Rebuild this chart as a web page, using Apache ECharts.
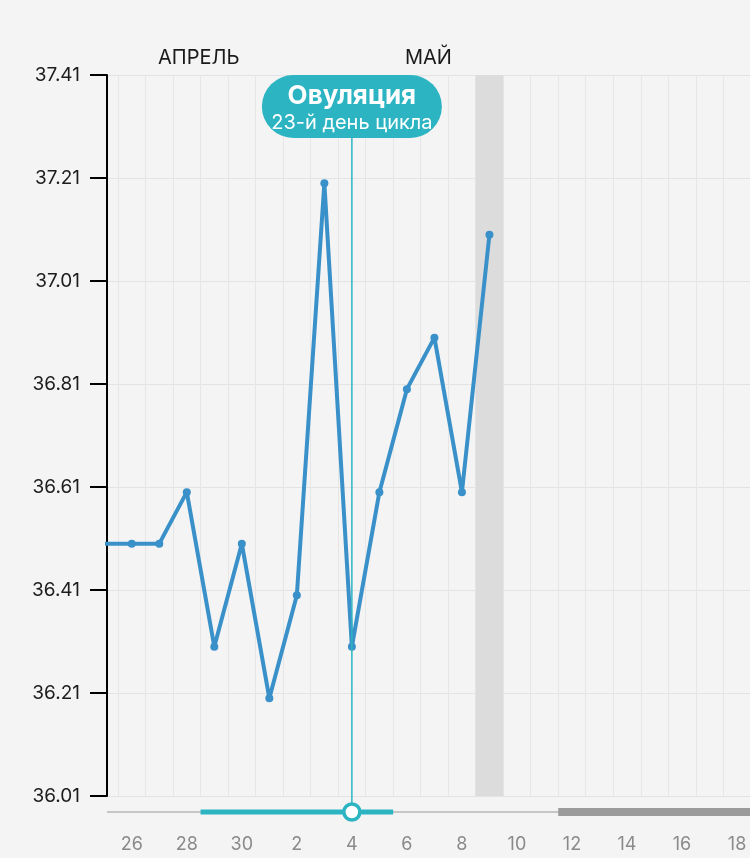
<!DOCTYPE html>
<html>
<head>
<meta charset="utf-8">
<script src="https://cdn.jsdelivr.net/npm/echarts@6/dist/echarts.min.js"></script>
<style>
  html, body { margin: 0; padding: 0; background: #f4f4f4; }
  #main { width: 750px; height: 858px; }
</style>
</head>
<body>
<div id="main"></div>
<script>
// дни по оси X (индекс 0 = 25 апреля)
const dayLabels = ['25', '26', '27', '28', '29', '30',
  '1', '2', '3', '4', '5', '6', '7', '8', '9', '10',
  '11', '12', '13', '14', '15', '16', '17', '18']
// базальная температура по дням, начиная с 25 апреля
const tempValues = [36.5, 36.5, 36.5, 36.6, 36.3, 36.5, 36.2, 36.4,
  37.2, 36.3, 36.6, 36.8, 36.9, 36.6, 37.1]
const yMin = 36.01
const yMax = 37.41
const yStep = 0.2
// видимый диапазон (в индексах дней)
const viewFrom = 0.1
const viewTo = 23.47
const ovulationIndex = 9
const ovulationTitle = 'Овуляция'
const ovulationSub = '23-й день цикла'
const fertileRange = [3.5, 10.5]
const periodFrom = 16.5
const todayRange = [13.5, 14.5]
const months = ['АПРЕЛЬ', 'МАЙ']

const teal = '#2db4c3'
const blue = '#3a91c9'
const font = 'Inter, Roboto, sans-serif'

const chart = echarts.init(document.getElementById('main'))

chart.setOption({
  backgroundColor: '#f4f4f4',
  animation: false,
  grid: {
    left: 107,
    right: 0,
    top: 75,
    bottom: 62
  },
  xAxis: [
    {
      type: 'value',
      min: viewFrom,
      max: viewTo,
      minInterval: 1,
      maxInterval: 1,
      axisLine: {show: false},
      axisTick: {show: false},
      splitLine: {show: false},
      axisLabel: {
        margin: 40,
        fontSize: 18,
        fontFamily: font,
        color: '#8a8a8a',
        showMinLabel: false,
        showMaxLabel: false,
        formatter: function (v) {
          if (Math.abs(v - Math.round(v)) > 0.001) return ''
          const i = Math.round(v)
          return i % 2 === 1 ? dayLabels[i] : ''
        }
      }
    },
    {
      // линии сетки между днями
      type: 'value',
      min: viewFrom + 0.5,
      max: viewTo + 0.5,
      minInterval: 1,
      maxInterval: 1,
      axisLine: {show: false},
      axisTick: {show: false},
      axisLabel: {show: false},
      splitLine: {lineStyle: {color: '#e6e6e6', width: 1}}
    }
  ],
  yAxis: {
    type: 'value',
    min: yMin,
    max: yMax,
    interval: yStep,
    axisLine: {show: true, lineStyle: {color: '#000', width: 2}},
    axisTick: {show: true, length: 17, lineStyle: {color: '#000', width: 2}},
    axisLabel: {
      margin: 27,
      fontSize: 19,
      fontFamily: font,
      color: '#1c1c1c',
      formatter: function (v) {
        return v.toFixed(2)
      }
    },
    splitLine: {lineStyle: {color: '#e3e3e3', width: 1}}
  },
  series: [
    {
      type: 'line',
      z: 1,
      data: [],
      markArea: {
        silent: true,
        itemStyle: {color: '#dcdcdc'},
        data: [[{xAxis: todayRange[0]}, {xAxis: todayRange[1]}]]
      }
    },
    {
      type: 'line',
      z: 3,
      data: tempValues.map((v, i) => [i, v]),
      symbol: 'circle',
      symbolSize: 8,
      lineStyle: {color: blue, width: 4},
      itemStyle: {color: blue}
    }
  ]
})

const px = v => chart.convertToPixel({xAxisIndex: 0}, v)
const left = px(viewFrom)
const right = px(viewTo)
const ox = px(ovulationIndex)
const sliderY = 812
const pillTop = 75
const pillH = 63
const pillW = 180

chart.setOption({
  graphic: [
    {
      type: 'text', left: 158, top: 48,
      style: {text: months[0], fontSize: 20, fontFamily: font, fill: '#1a1a1a'}
    },
    {
      type: 'text', left: 405, top: 48,
      style: {text: months[1], fontSize: 20, fontFamily: font, fill: '#1a1a1a'}
    },
    {
      type: 'line', z: 10,
      shape: {x1: left, y1: sliderY, x2: right, y2: sliderY},
      style: {stroke: '#c6c6c6', lineWidth: 2}
    },
    {
      type: 'line', z: 11,
      shape: {x1: px(fertileRange[0]), y1: sliderY, x2: px(fertileRange[1]), y2: sliderY},
      style: {stroke: teal, lineWidth: 5}
    },
    {
      type: 'line', z: 11,
      shape: {x1: px(periodFrom), y1: sliderY, x2: right, y2: sliderY},
      style: {stroke: '#9b9b9b', lineWidth: 8}
    },
    {
      type: 'line', z: 12,
      shape: {x1: ox, y1: pillTop + pillH, x2: ox, y2: sliderY - 8},
      style: {stroke: teal, lineWidth: 1.5}
    },
    {
      type: 'circle', z: 13,
      shape: {cx: ox, cy: sliderY, r: 8},
      style: {fill: '#fff', stroke: teal, lineWidth: 3.5}
    },
    {
      type: 'rect', z: 14,
      shape: {x: ox - pillW / 2, y: pillTop, width: pillW, height: pillH, r: pillH / 2},
      style: {fill: teal}
    },
    {
      type: 'text', z: 15, x: ox, y: 96,
      style: {
        text: ovulationTitle, fontSize: 26, fontWeight: 'bold', fontFamily: font,
        fill: '#fff', align: 'center', verticalAlign: 'middle'
      }
    },
    {
      type: 'text', z: 15, x: ox, y: 123,
      style: {
        text: ovulationSub, fontSize: 20, fontFamily: font,
        fill: '#fff', align: 'center', verticalAlign: 'middle'
      }
    }
  ]
})
</script>
</body>
</html>
